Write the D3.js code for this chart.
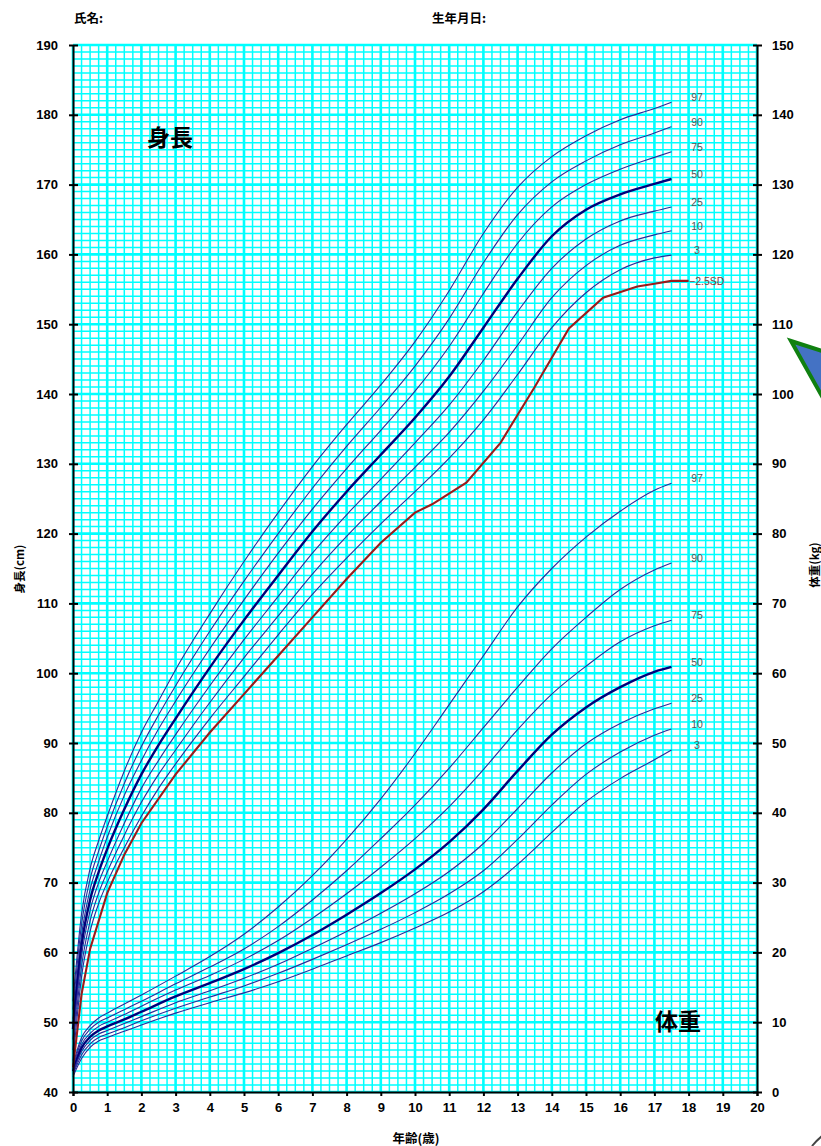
<!DOCTYPE html>
<html>
<head>
<meta charset="utf-8">
<script src="https://cdn.jsdelivr.net/npm/d3@7"></script>
<style>
  body { margin: 0; background: #fff; overflow: hidden; }
  text { font-family: "Liberation Sans", Arial, sans-serif; }
  .jp { font-family: "Noto Sans CJK JP", sans-serif; font-weight: bold; }
</style>
</head>
<body>
<script>
//ages used by the percentile curves
var hAges = [0,0.25,0.5,0.75,1,1.5,2,2.5,3,4,5,6,7,8,9,10,11,12,13,14,15,16,17,17.5];
var h97 = [53.0,65.5,72.0,76.0,79.5,86.0,91.5,96.0,100.5,108.5,116.0,123.0,129.6,135.6,141.3,147.5,154.8,163.0,169.6,174.0,177.0,179.3,180.9,181.8];
var h90 = [51.8,64.0,70.5,74.5,78.0,84.2,89.5,94.0,98.2,106.0,113.2,120.0,126.5,132.5,138.1,144.0,150.8,158.8,165.7,170.4,173.4,175.7,177.4,178.3];
var h75 = [50.5,62.5,69.0,73.0,76.5,82.5,87.5,92.0,96.0,103.5,110.5,117.2,123.5,129.3,134.8,140.4,146.8,154.4,161.6,166.8,170.0,172.2,173.9,174.7];
var h50 = [49.0,61.0,67.5,71.5,74.8,80.5,85.5,89.7,93.5,100.8,107.6,114.0,120.3,126.0,131.3,136.6,142.5,149.5,156.5,162.6,166.4,168.6,170.1,170.8];
var h25 = [47.5,59.5,66.0,70.0,73.0,78.5,83.5,87.5,91.2,98.2,104.8,111.0,117.2,122.7,127.8,133.0,138.4,144.8,151.8,158.0,162.2,164.8,166.2,166.8];
var h10 = [46.0,58.0,64.5,68.5,71.5,76.8,81.5,85.5,89.0,95.8,102.2,108.2,114.2,119.6,124.6,129.5,134.5,140.4,147.0,153.8,158.4,161.3,162.8,163.4];
var h3  = [44.5,56.5,63.0,67.0,70.0,75.0,79.5,83.5,87.0,93.5,99.5,105.5,111.3,116.5,121.4,126.0,130.8,136.3,142.8,149.5,154.5,157.8,159.5,159.9];

//-2.5SD line (drawn straight between points)
var sdAges = [0,0.25,0.5,1,1.5,2,3,4,5,6,7,8,9,10,10.5,11.5,12.5,13.5,14.5,15.5,16.5,17,17.5,18];
var sdVals = [43.5,54.0,60.5,68.5,74.0,78.5,85.5,91.5,97.0,102.5,108.0,113.5,118.7,123.0,124.2,127.3,133.0,141.0,149.4,153.8,155.4,155.8,156.2,156.2];

//weight percentiles
var wAges = [0,0.25,0.5,0.75,1,1.5,2,3,4,5,6,7,8,9,10,11,12,13,14,15,16,17,17.5];
var w97 = [3.9,7.8,9.5,10.6,11.3,12.6,13.9,16.6,19.4,22.6,26.5,31.0,36.2,42.0,48.5,55.5,62.5,69.5,75.0,79.5,83.2,86.2,87.2];
var w90 = [3.6,7.3,9.0,10.0,10.6,11.8,13.0,15.5,17.9,20.5,23.7,27.5,31.7,36.3,41.1,46.4,52.2,58.0,63.5,68.0,72.0,74.8,75.8];
var w75 = [3.3,6.8,8.4,9.4,10.0,11.1,12.3,14.6,16.7,19.0,21.7,24.9,28.4,32.2,36.3,40.9,46.2,51.9,57.0,61.0,64.5,66.8,67.6];
var w50 = [3.0,6.3,7.9,8.8,9.4,10.4,11.5,13.7,15.6,17.6,19.9,22.5,25.4,28.5,31.9,35.8,40.5,46.0,51.2,55.1,58.0,60.2,60.9];
var w25 = [2.8,5.8,7.4,8.3,8.8,9.8,10.8,12.8,14.5,16.3,18.3,20.6,23.0,25.6,28.4,31.6,35.6,40.6,45.7,49.9,52.8,54.9,55.7];
var w10 = [2.5,5.3,6.9,7.8,8.3,9.2,10.2,12.0,13.6,15.2,17.0,19.0,21.1,23.3,25.7,28.4,31.7,36.2,41.1,45.5,48.7,51.1,52.0];
var w3  = [2.2,4.8,6.4,7.3,7.8,8.7,9.6,11.3,12.8,14.2,15.8,17.6,19.5,21.4,23.5,25.8,28.7,32.6,37.2,41.6,44.9,47.6,49.0];

var pctLabels = ["97","90","75","50","25","10","3"];
var xTicks = d3.range(0, 21, 1);
var hTicks = d3.range(40, 191, 10);
var wTicks = d3.range(0, 151, 10);

var width = 821, height = 1146;

var svg = d3.select("body").append("svg")
    .attr("width", width)
    .attr("height", height);

var x = d3.scaleLinear().domain([0, 20]).range([73, 757]);
var yH = d3.scaleLinear().domain([40, 190]).range([1092, 45]);
var yW = d3.scaleLinear().domain([0, 150]).range([1092, 45]);

//graph paper background
var grid = svg.append("g").attr("class", "grid");
grid.append("rect")
    .attr("x", x(0)).attr("y", yH(190))
    .attr("width", x(20) - x(0)).attr("height", yH(40) - yH(190))
    .attr("fill", "#fff");

var vMinor = d3.range(0, 20.001, 0.25).filter(function(d){ return d % 1 !== 0; });
var hMinor = d3.range(40, 190.001, 1).filter(function(d){ return d % 10 !== 0; });

grid.selectAll(".vmin").data(vMinor).enter().append("line")
    .attr("x1", function(d){ return x(d); }).attr("x2", function(d){ return x(d); })
    .attr("y1", yH(190)).attr("y2", yH(40))
    .attr("stroke", "#00ffff").attr("stroke-width", 1.5);
grid.selectAll(".hmin").data(hMinor).enter().append("line")
    .attr("x1", x(0)).attr("x2", x(20))
    .attr("y1", function(d){ return yH(d); }).attr("y2", function(d){ return yH(d); })
    .attr("stroke", "#00ffff").attr("stroke-width", 1.5);
grid.selectAll(".vmaj").data(xTicks).enter().append("line")
    .attr("x1", function(d){ return x(d); }).attr("x2", function(d){ return x(d); })
    .attr("y1", yH(190)).attr("y2", yH(40))
    .attr("stroke", "#00ffff").attr("stroke-width", 2.6);
grid.selectAll(".hmaj").data(hTicks).enter().append("line")
    .attr("x1", x(0)).attr("x2", x(20))
    .attr("y1", function(d){ return yH(d); }).attr("y2", function(d){ return yH(d); })
    .attr("stroke", "#00ffff").attr("stroke-width", 2.6);

//percentile curves
var curve = d3.line().curve(d3.curveMonotoneX);

function drawSet(ages, sets, yScale){
    sets.forEach(function(vals, i){
        var pts = ages.map(function(a, j){ return [x(a), yScale(vals[j])]; });
        var main = pctLabels[i] === "50";
        svg.append("path")
            .attr("d", curve(pts))
            .attr("fill", "none")
            .attr("stroke", main ? "#00007a" : "#2b2b98")
            .attr("stroke-width", main ? 2.4 : 1.1);
        svg.append("text")
            .attr("x", 697)
            .attr("y", yScale(vals[vals.length - 1]) - 1)
            .attr("text-anchor", "middle")
            .attr("font-size", 10.5)
            .attr("fill", "#555")
            .text(pctLabels[i]);
    });
}
drawSet(hAges, [h97, h90, h75, h50, h25, h10, h3], yH);
drawSet(wAges, [w97, w90, w75, w50, w25, w10, w3], yW);

//-2.5SD
svg.append("path")
    .attr("d", d3.line()(sdAges.map(function(a, j){ return [x(a), yH(sdVals[j])]; })))
    .attr("fill", "none")
    .attr("stroke", "#9b1b1b")
    .attr("stroke-width", 2.1);
svg.append("text")
    .attr("x", 689)
    .attr("y", yH(sdVals[sdVals.length - 1]) + 4)
    .attr("font-size", 10.5)
    .attr("fill", "#8a3a3a")
    .text("\u22122.5SD");

//axes
var axL = svg.append("g").attr("transform", "translate(" + x(0) + ",0)")
    .call(d3.axisLeft(yH).tickValues(hTicks).tickSizeOuter(0).tickPadding(9));
var axR = svg.append("g").attr("transform", "translate(" + x(20) + ",0)")
    .call(d3.axisRight(yW).tickValues(wTicks).tickSizeOuter(0).tickPadding(9));
var axB = svg.append("g").attr("transform", "translate(0," + yH(40) + ")")
    .call(d3.axisBottom(x).tickValues(xTicks).tickSizeOuter(0).tickSize(4).tickPadding(7));

axL.selectAll(".tick line").attr("x1", 5).attr("x2", -4);
axR.selectAll(".tick line").attr("x1", -4).attr("x2", 5);
[axL, axR, axB].forEach(function(g){
    g.select(".domain").attr("stroke", "#000").attr("stroke-width", 2);
    g.selectAll(".tick line").attr("stroke", "#000").attr("stroke-width", 2);
    g.selectAll(".tick text")
        .attr("font-family", "Liberation Sans, Arial, sans-serif")
        .attr("font-weight", "bold")
        .attr("font-size", 13)
        .attr("fill", "#000");
});

//titles and labels
svg.append("text").attr("class", "jp").attr("x", 74).attr("y", 23)
    .attr("font-size", 12.5).text("氏名:");
svg.append("text").attr("class", "jp").attr("x", 432).attr("y", 23)
    .attr("font-size", 12.5).text("生年月日:");
svg.append("text").attr("class", "jp").attr("x", 147).attr("y", 146)
    .attr("font-size", 23).text("身長");
svg.append("text").attr("class", "jp").attr("x", 655).attr("y", 1030)
    .attr("font-size", 23).text("体重");
svg.append("text").attr("class", "jp")
    .attr("transform", "translate(24,569) rotate(-90)")
    .attr("text-anchor", "middle").attr("font-size", 11.5).text("身長(cm)");
svg.append("text").attr("class", "jp")
    .attr("transform", "translate(819,565) rotate(-90)")
    .attr("text-anchor", "middle").attr("font-size", 11.5).text("体重(kg)");
svg.append("text").attr("class", "jp")
    .attr("x", 416).attr("y", 1143)
    .attr("text-anchor", "middle").attr("font-size", 12.5).text("年齢(歳)");

//stray shape at the right edge and page corner
svg.append("polygon")
    .attr("points", "791,341 860,363 842,432")
    .attr("fill", "#4472c4")
    .attr("stroke", "#108010")
    .attr("stroke-width", 4)
    .attr("stroke-linejoin", "miter");
svg.append("path")
    .attr("d", "M812,1146 Q816,1141 822,1136")
    .attr("fill", "none")
    .attr("stroke", "#444")
    .attr("stroke-width", 2);
</script>
</body>
</html>
